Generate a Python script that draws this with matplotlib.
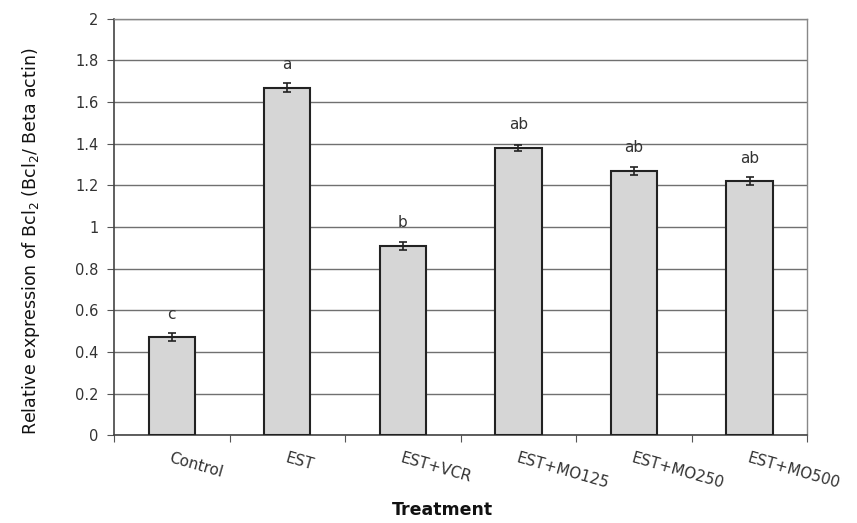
import numpy as np
import matplotlib.pyplot as plt

plt.rcParams['font.family'] = ['DejaVu Sans']

treatments = ['Control', 'EST', 'EST+VCR', 'EST+MO125', 'EST+MO250', 'EST+MO500']
expression = [0.47, 1.67, 0.91, 1.38, 1.27, 1.22]
errors = [0.02, 0.02, 0.02, 0.015, 0.02, 0.02]
letters = ['c', 'a', 'b', 'ab', 'ab', 'ab']

fig = plt.figure(figsize=(8.57, 5.23), dpi=100)
ax = fig.add_axes([0.133, 0.168, 0.809, 0.796])

x = np.arange(len(treatments))
ax.bar(x, expression, width=0.4, color='#d6d6d6', edgecolor='#222222',
       linewidth=1.5, zorder=3)
ax.errorbar(x, expression, yerr=errors, fmt='none', ecolor='#222222',
            elinewidth=1.2, capsize=3, capthick=1.2, zorder=4)

# significance letters above each bar
for xi, v, lab in zip(x, expression, letters):
    ax.text(xi, v + 0.11, lab, ha='center', va='center', fontsize=11,
            color='#333333')

ax.set_xlim(-0.5, len(treatments) - 0.5)
ax.set_ylim(0, 2)
ax.set_yticks(np.arange(0, 2.01, 0.2))
ax.set_yticklabels(['0', '0.2', '0.4', '0.6', '0.8', '1', '1.2', '1.4',
                    '1.6', '1.8', '2'], fontsize=10.5, color='#333333')
ax.yaxis.grid(True, color='#707070', linewidth=1, zorder=0)

# ticks sit between the categories, labels under each bar
ax.set_xticks(np.arange(-0.5, len(treatments) + 0.5, 1))
ax.set_xticklabels([])
ax.set_xticks(x, minor=True)
ax.set_xticklabels(treatments, minor=True, rotation=-16, ha='left',
                   rotation_mode='anchor', fontsize=11, color='#333333')
ax.tick_params(axis='x', which='minor', length=0, pad=11)
ax.tick_params(axis='x', which='major', length=5, color='#555555')
ax.tick_params(axis='y', length=5, color='#555555', pad=6)

for side in ['left', 'bottom']:
    ax.spines[side].set_color('#444444')
    ax.spines[side].set_linewidth(1.2)
for side in ['top', 'right']:
    ax.spines[side].set_color('#888888')
    ax.spines[side].set_linewidth(1)

ax.set_ylabel(r'Relative expression of Bcl$_2$ (Bcl$_2$/ Beta actin)',
              fontsize=12.5, color='#111111')
ax.yaxis.set_label_coords(-0.104, 0.465)
fig.text(0.516, 0.008, 'Treatment', ha='center', va='bottom',
         fontsize=12.5, fontweight='bold', color='#111111')

fig.savefig('out.png', dpi=100)
